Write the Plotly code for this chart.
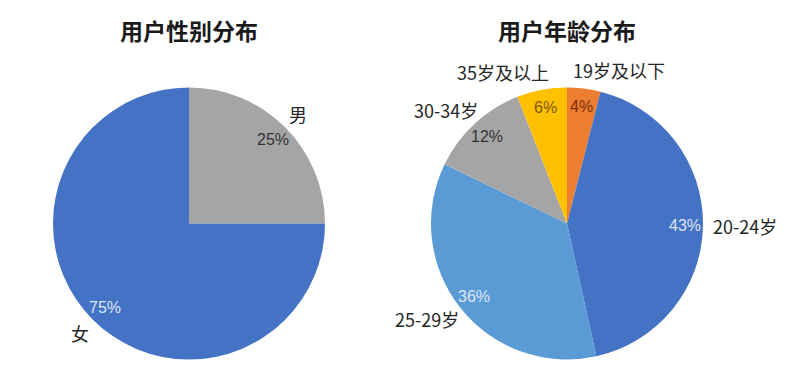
import math
import plotly.graph_objects as go

# ---- data ----
gender_labels = ["男", "女"]
gender_values = [25, 75]
age_labels = ["19岁及以下", "20-24岁", "25-29岁", "30-34岁", "35岁及以上"]
age_values = [4, 43, 36, 12, 6]
titles = ["用户性别分布", "用户年龄分布"]

# ---- styles ----
W, H = 795, 377
gender_colors = ["#A5A5A5", "#4472C4"]
gender_pct_colors = ["#333333", "#DCE5F4"]
age_colors = ["#ED7D31", "#4472C4", "#5B9BD5", "#A5A5A5", "#FFC000"]
age_pct_colors = ["#7A2E0C", "#DCE5F4", "#DCE5F4", "#333333", "#7A5800"]

CJK = "Noto Sans CJK SC"
LABEL_FS = 18
PCT_FS = 16
R = 136
pies = [
    dict(cx=189, cy=223.5, labels=gender_labels, values=gender_values,
         colors=gender_colors, pct_colors=gender_pct_colors, title=titles[0]),
    dict(cx=567, cy=223.5, labels=age_labels, values=age_values,
         colors=age_colors, pct_colors=age_pct_colors, title=titles[1]),
]


def text_width(s, fs):
    w = 0
    for ch in s:
        if ord(ch) > 0x2E80:
            w += fs
        elif ch == "-":
            w += 0.36 * fs
        else:
            w += 0.56 * fs
    return w


fig = go.Figure()
annotations = []

for p in pies:
    cx, cy = p["cx"], p["cy"]
    fig.add_trace(go.Pie(
        labels=p["labels"], values=p["values"], sort=False,
        direction="clockwise", rotation=0,
        marker=dict(colors=p["colors"], line=dict(width=0)),
        textinfo="none", hoverinfo="label+percent", showlegend=False,
        domain=dict(x=[(cx - R) / W, (cx + R) / W],
                    y=[1 - (cy + R) / H, 1 - (cy - R) / H]),
    ))
    total = sum(p["values"])
    cum = 0
    boxes = []
    for lab, v, pc in zip(p["labels"], p["values"], p["pct_colors"]):
        mid = (cum + v / 2) / total * 2 * math.pi
        cum += v
        s, c = math.sin(mid), math.cos(mid)
        # percent inside near edge
        rp = 0.87 * R
        annotations.append(dict(
            x=(cx + rp * s) / W, y=1 - (cy - rp * c) / H, xref="paper", yref="paper",
            text=f"{v}%", showarrow=False, xanchor="center", yanchor="middle",
            font=dict(family="Liberation Sans Narrow, Liberation Sans, Arial", size=PCT_FS, color=pc)))
        # category label outside
        rl = 1.07 * R
        w = text_width(lab, LABEL_FS)
        h = LABEL_FS
        bx = cx + rl * s + w / 2 * s
        by = cy - rl * c - h / 2 * c
        boxes.append([bx, by, w, h, lab])
    # simple overlap resolution
    gap = 24
    for _ in range(10):
        for i in range(len(boxes)):
            for j in range(i + 1, len(boxes)):
                a, b = boxes[i], boxes[j]
                if abs(a[1] - b[1]) < max(a[3], b[3]):
                    ov = (a[2] + b[2]) / 2 + gap - abs(a[0] - b[0])
                    if ov > 0:
                        if a[0] < b[0]:
                            a[0] -= ov / 2
                            b[0] += ov / 2
                        else:
                            a[0] += ov / 2
                            b[0] -= ov / 2
    for bx, by, w, h, lab in boxes:
        annotations.append(dict(
            x=bx / W, y=1 - by / H, xref="paper", yref="paper",
            text=lab, showarrow=False, xanchor="center", yanchor="middle",
            font=dict(family=CJK, size=LABEL_FS, color="#262626")))
    annotations.append(dict(
        x=cx / W, y=1 - 30 / H, xref="paper", yref="paper",
        text=f"<b>{p['title']}</b>", showarrow=False, xanchor="center", yanchor="middle",
        font=dict(family=CJK, size=23, color="#1A1A1A")))

fig.update_layout(
    width=W, height=H, autosize=False,
    margin=dict(l=0, r=0, t=0, b=0),
    paper_bgcolor="white", plot_bgcolor="white",
    annotations=annotations,
)

fig.write_html("out.html", config={"displayModeBar": False},
               post_script="document.body.style.margin='0';")
